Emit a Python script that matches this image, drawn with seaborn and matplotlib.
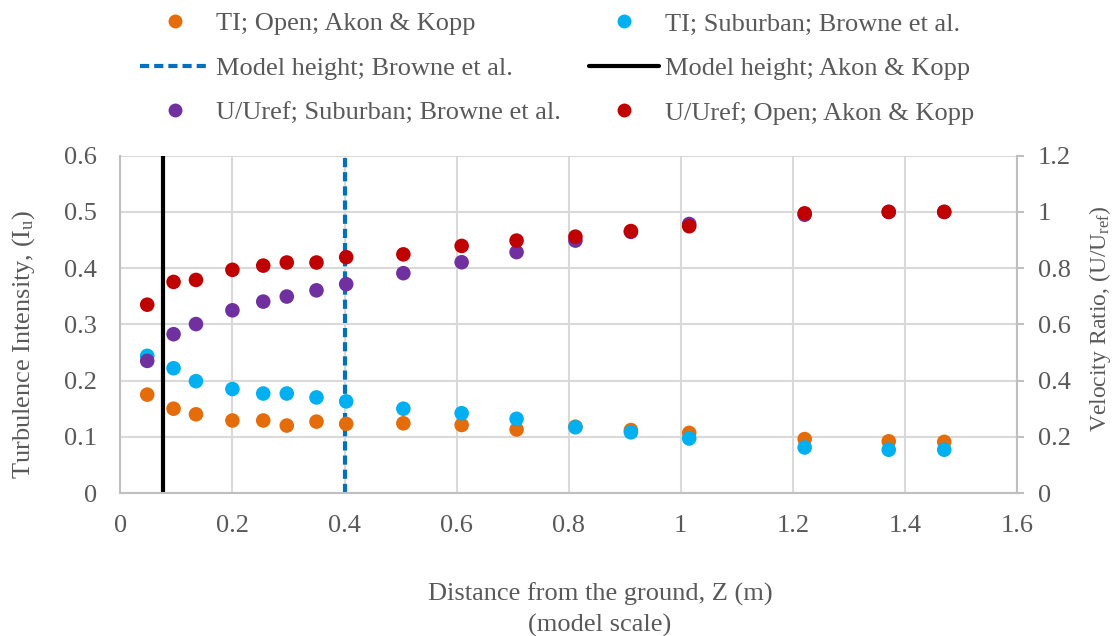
import matplotlib
matplotlib.use("Agg")
import matplotlib.pyplot as plt
from matplotlib.lines import Line2D
from matplotlib.ticker import FuncFormatter, MultipleLocator
import seaborn as sns
import pandas as pd

# ---------------- data ----------------
z = [0.048, 0.095, 0.135, 0.2, 0.255, 0.297, 0.35, 0.403, 0.505, 0.609,
     0.707, 0.812, 0.911, 1.015, 1.221, 1.371, 1.47]
ti_open = [0.175, 0.150, 0.140, 0.129, 0.129, 0.120, 0.127, 0.123, 0.124, 0.121,
           0.113, 0.118, 0.112, 0.107, 0.096, 0.092, 0.091]
ti_suburban = [0.244, 0.222, 0.199, 0.185, 0.177, 0.177, 0.170, 0.163, 0.150, 0.142,
               0.132, 0.117, 0.108, 0.097, 0.081, 0.077, 0.077]
u_suburban = [0.47, 0.565, 0.601, 0.65, 0.681, 0.699, 0.721, 0.743, 0.782, 0.821,
              0.857, 0.898, 0.929, 0.957, 0.99, 1.0, 1.0]
u_open = [0.67, 0.751, 0.758, 0.794, 0.809, 0.82, 0.82, 0.839, 0.849, 0.879,
          0.898, 0.912, 0.932, 0.949, 0.995, 1.0, 1.0]
model_height_akon = 0.077
model_height_browne = 0.40

lab_ti_open = "TI; Open; Akon & Kopp"
lab_ti_sub = "TI; Suburban; Browne et al."
lab_mh_browne = "Model height; Browne et al."
lab_mh_akon = "Model height; Akon & Kopp"
lab_u_sub = "U/Uref; Suburban; Browne et al."
lab_u_open = "U/Uref; Open; Akon & Kopp"

c_orange = "#E46C0A"
c_cyan = "#00B0F0"
c_purple = "#7030A0"
c_red = "#C00000"
c_blue = "#0070C0"
txt = "#595959"
grid_c = "#D9D9D9"
spine_c = "#BFBFBF"

# ---------------- style ----------------
sns.set_theme(style="white")
plt.rcParams["font.family"] = ["Liberation Serif", "DejaVu Serif"]
plt.rcParams["mathtext.fontset"] = "custom"
plt.rcParams["mathtext.rm"] = "Liberation Serif"
plt.rcParams["mathtext.it"] = "Liberation Serif:italic"
FS = 19

df_ti = pd.DataFrame({
    "z": z + z,
    "val": ti_open + ti_suburban,
    "series": [lab_ti_open] * len(z) + [lab_ti_sub] * len(z),
})
df_u = pd.DataFrame({
    "z": z + z,
    "val": u_suburban + u_open,
    "series": [lab_u_sub] * len(z) + [lab_u_open] * len(z),
})

fig = plt.figure(figsize=(11.14, 6.36), dpi=100)
ax = fig.add_axes([0.108, 0.2248, 0.805, 0.5304])
ax2 = ax.twinx()

# vertical model-height lines (beneath points)
ax.axvline(model_height_akon, color="black", lw=3, zorder=1)
ax.axvline(model_height_browne, color=c_blue, lw=3, ls=(0, (2.2, 1.2)), zorder=1)

sns.scatterplot(data=df_ti, x="z", y="val", hue="series",
                palette={lab_ti_open: c_orange, lab_ti_sub: c_cyan},
                s=110, linewidth=0, legend=False, ax=ax, zorder=3)
sns.scatterplot(data=df_u, x="z", y="val", hue="series",
                palette={lab_u_sub: c_purple, lab_u_open: c_red},
                s=110, linewidth=0, legend=False, ax=ax2, zorder=3)

fmt = FuncFormatter(lambda v, p: f"{v:g}")
ax.set_xlim(0, 1.6)
ax.set_ylim(0, 0.6)
ax2.set_ylim(0, 1.2)
ax.xaxis.set_major_locator(MultipleLocator(0.2))
ax.yaxis.set_major_locator(MultipleLocator(0.1))
ax2.yaxis.set_major_locator(MultipleLocator(0.2))
for a in (ax, ax2):
    a.xaxis.set_major_formatter(fmt)
    a.yaxis.set_major_formatter(fmt)

ax.grid(True, color=grid_c, lw=1.5)
ax.set_axisbelow(True)
ax2.grid(False)

for a in (ax, ax2):
    for s in a.spines.values():
        s.set_visible(False)
ax.spines["left"].set_visible(True)
ax.spines["left"].set_color(spine_c)
ax.spines["left"].set_linewidth(1.5)
ax.spines["bottom"].set_visible(True)
ax.spines["bottom"].set_color(spine_c)
ax.spines["bottom"].set_linewidth(1.5)
ax2.spines["right"].set_visible(True)
ax2.spines["right"].set_color(spine_c)
ax2.spines["right"].set_linewidth(1.5)

ax.tick_params(axis="x", length=0, pad=16, labelsize=FS, labelcolor=txt)
ax.tick_params(axis="y", length=0, pad=17, labelsize=FS, labelcolor=txt)
ax2.tick_params(axis="y", length=5, width=1.5, color=spine_c, direction="out",
                pad=10, labelsize=FS, labelcolor=txt)

ax.set_xlabel("Distance from the ground, Z (m)\n(model scale)", fontsize=FS,
              color=txt, linespacing=1.45)
ax.xaxis.set_label_coords(0.535, -0.265)
ax.set_ylabel(r"Turbulence Intensity, (I$_{\mathrm{u}}$)", fontsize=FS, color=txt)
ax.yaxis.set_label_coords(-0.093, 0.442)
ax2.set_ylabel(r"Velocity Ratio, (U/U$_{\mathrm{ref}}$)", fontsize=17, color=txt,
               rotation=90)
ax2.yaxis.set_label_coords(1.078, 0.517)

def dot(c):
    return Line2D([], [], ls="none", marker="o", ms=10, color=c, mew=0)

handles = [dot(c_orange), Line2D([], [], color=c_blue, lw=3, ls=(0, (2.2, 1.2))), dot(c_purple),
           dot(c_cyan), Line2D([], [], color="black", lw=3), dot(c_red)]
labels = [lab_ti_open, lab_mh_browne, lab_u_sub, lab_ti_sub, lab_mh_akon, lab_u_open]
leg = fig.legend(handles, labels, ncol=2, loc="upper left",
                 bbox_to_anchor=(140 / 1114, 1 - 12 / 636), frameon=False,
                 fontsize=FS, handlelength=2.65, handletextpad=0.23,
                 columnspacing=1.06, labelspacing=0.8, borderpad=0, borderaxespad=0)
for t in leg.get_texts():
    t.set_color(txt)

fig.savefig("out.png", dpi=100)
